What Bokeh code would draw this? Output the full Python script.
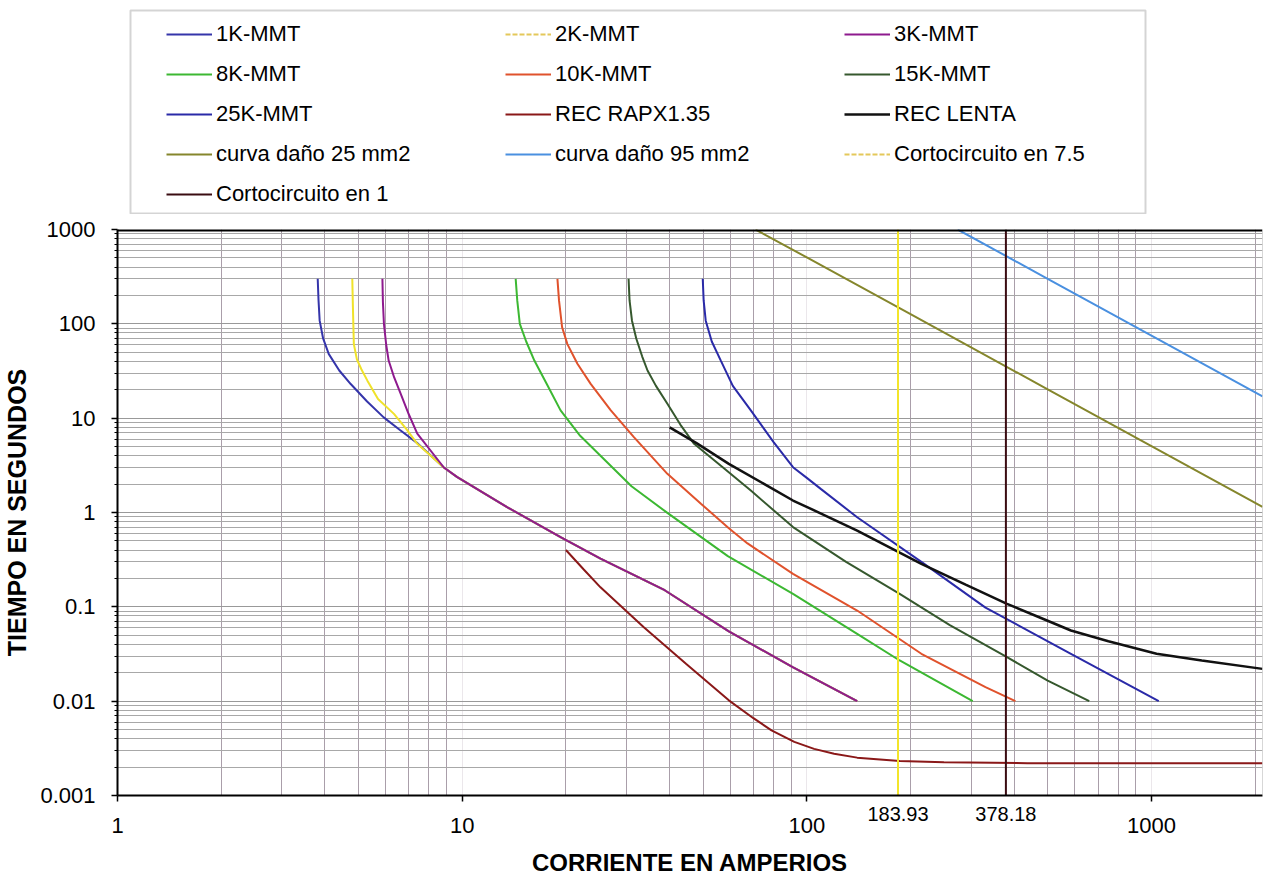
from bokeh.plotting import figure
from bokeh.layouts import column
from bokeh.models import (Legend, LegendItem, FixedTicker, BoxAnnotation, Range1d, Span,
                          LogAxis, PrintfTickFormatter)
from bokeh.embed import file_html
from bokeh.resources import INLINE

FONT = "Liberation Sans"

# ---------------- data ----------------
x_major = [1, 10, 100, 1000]
x_minor = [2, 3, 4, 5, 6, 7, 8, 9, 20, 30, 40, 50, 60, 70, 80, 90,
           200, 300, 400, 500, 600, 700, 800, 900, 2000]
y_major = [0.001, 0.01, 0.1, 1, 10, 100, 1000]
y_minor = [0.002, 0.003, 0.004, 0.005, 0.006, 0.007, 0.008, 0.009,
           0.02, 0.03, 0.04, 0.05, 0.06, 0.07, 0.08, 0.09,
           0.2, 0.3, 0.4, 0.5, 0.6, 0.7, 0.8, 0.9,
           2, 3, 4, 5, 6, 7, 8, 9, 20, 30, 40, 50, 60, 70, 80, 90,
           200, 300, 400, 500, 600, 700, 800, 900]
x_min, x_max = 1, 2100
y_min, y_max = 0.001, 1000

k1_i = [3.81, 3.83, 3.86, 3.95, 4.10, 4.40, 4.75, 5.30, 5.92, 6.60, 7.43, 8.85, 9.68, 13.5, 19.3, 25.2, 38.7, 59.4, 91.0, 140]
k1_t = [300, 180, 108, 70, 48, 32, 23, 15, 10.2, 7.5, 5.4, 3.0, 2.37, 1.14, 0.547, 0.325, 0.15, 0.055, 0.0229, 0.01]

k2_i = [4.80, 4.82, 4.85, 4.95, 5.10, 5.31, 5.70, 6.34, 6.90, 7.41, 8.85, 9.68, 13.5, 19.3, 25.2, 38.7, 59.4, 91.0, 140]
k2_t = [300, 150, 61, 42, 33, 25, 16, 11.1, 7.6, 5.35, 3.0, 2.37, 1.14, 0.547, 0.325, 0.15, 0.055, 0.0229, 0.01]

k3_i = [5.87, 5.89, 5.93, 6.02, 6.12, 6.35, 6.63, 7.00, 7.41, 8.85, 9.68, 13.5, 19.3, 25.2, 38.7, 59.4, 91.0, 140]
k3_t = [300, 170, 100, 60, 40.8, 27, 18.2, 11, 6.87, 3.0, 2.37, 1.14, 0.547, 0.325, 0.15, 0.055, 0.0229, 0.01]

k8_i = [14.3, 14.45, 14.7, 15.34, 16.2, 17.6, 19.3, 22.0, 25.2, 31.0, 39.4, 59.0, 91.2, 140, 186, 303]
k8_t = [300, 177, 100, 65, 40.8, 23, 12.1, 6.5, 4.0, 1.9, 0.99, 0.345, 0.137, 0.0518, 0.027, 0.01]

k10_i = [18.9, 19.1, 19.5, 20.2, 21.6, 23.6, 27.0, 31.5, 39.4, 49.3, 59.4, 67.3, 91.2, 140, 215, 330, 403]
k10_t = [300, 177, 92, 61, 37.7, 23.1, 12.1, 6.3, 2.57, 1.24, 0.68, 0.47, 0.224, 0.0914, 0.0318, 0.0141, 0.01]

k15_i = [30.4, 30.6, 31.1, 32.0, 33.3, 34.5, 36.5, 39.4, 43.0, 47.1, 56.9, 68.8, 91.2, 130, 186, 260, 381, 500, 660]
k15_t = [300, 177, 108, 70, 45, 32, 22, 14.2, 8.5, 5.35, 3.03, 1.71, 0.70, 0.30, 0.137, 0.064, 0.0293, 0.0165, 0.01]

k25_i = [49.9, 50.2, 50.9, 53.0, 56.3, 61.0, 68.8, 80.0, 91.2, 100, 110, 140, 215, 330, 584, 1050]
k25_t = [300, 177, 108, 65, 40.8, 22, 12.1, 5.6, 3.02, 2.33, 1.77, 0.89, 0.30, 0.098, 0.0318, 0.01]

rr_i = [20.0, 22.5, 25.2, 33.6, 44.7, 59.4, 70.0, 79.0, 92.0, 105, 120, 140, 186, 250, 437, 2100]
rr_t = [0.40, 0.25, 0.161, 0.061, 0.0248, 0.0102, 0.0066, 0.0049, 0.0037, 0.00312, 0.00277, 0.00252, 0.00232, 0.00225, 0.0022, 0.0022]

rl_i = [40.0, 48.0, 59.4, 91.2, 110, 140, 215, 290, 381, 480, 584, 750, 1035, 1400, 2100]
rl_t = [8.0, 5.4, 3.28, 1.34, 0.975, 0.644, 0.286, 0.171, 0.1076, 0.0757, 0.0561, 0.0432, 0.0318, 0.027, 0.022]

d25_i = [71.0, 100, 200, 500, 1000, 2100]
d25_t = [1000, 506, 127, 20.2, 5.06, 1.15]

d95_i = [274, 500, 1000, 2100]
d95_t = [1000, 300, 75, 17.0]

sc75_i = 183.93
sc1_i = 378.18

series_names = ["1K-MMT", "2K-MMT", "3K-MMT", "8K-MMT", "10K-MMT", "15K-MMT", "25K-MMT",
                "REC RAPX1.35", "REC LENTA", "curva daño 25 mm2", "curva daño 95 mm2",
                "Cortocircuito en 7.5", "Cortocircuito en 1"]
series_colors = ["#3535aa", "#f0e22a", "#8e1a8e", "#3cb832", "#e0522c", "#36582e", "#2a2aa8",
                 "#8a1818", "#111111", "#85862c", "#4a90e0", "#f3e52a", "#3a0c12"]
series_widths = [2, 2, 2, 2, 2, 2, 2, 2, 2.5, 2, 2, 2, 2]
series_data = [(k1_i, k1_t), (k2_i, k2_t), (k3_i, k3_t), (k8_i, k8_t), (k10_i, k10_t),
               (k15_i, k15_t), (k25_i, k25_t), (rr_i, rr_t), (rl_i, rl_t),
               (d25_i, d25_t), (d95_i, d95_t),
               ([sc75_i, sc75_i], [y_min, y_max]), ([sc1_i, sc1_i], [y_min, y_max])]

# ---------------- legend figure (top band) ----------------
# the legend proxies plot the same series, but its ranges keep them out of view
pl = figure(width=1272, height=214, x_range=Range1d(0, 1), y_range=Range1d(0, 1),
            x_axis_location=None, y_axis_location=None, min_border=0,
            output_backend="svg", toolbar_location=None)
pl.outline_line_color = None
pl.xgrid.visible = False
pl.ygrid.visible = False
items = []
for name, (xs, ys), col, w in zip(series_names, series_data, series_colors, series_widths):
    yellow = col in ("#f0e22a", "#f3e52a")
    r = pl.line(xs, ys, line_color="#e4c85a" if yellow else col, line_width=w,
                line_dash="5 2" if yellow else "solid")
    items.append(LegendItem(label=name, renderers=[r]))
legend = Legend(items=items, orientation="horizontal", ncols=3,
                location=(49, 7), margin=0, padding=0,
                glyph_width=46, glyph_height=20, label_height=20,
                label_width=275, label_standoff=4, spacing=14,
                label_text_font=FONT, label_text_font_size="22px",
                label_text_color="black",
                border_line_alpha=0, background_fill_alpha=0)
pl.add_layout(legend, "center")
pl.add_layout(BoxAnnotation(left=130, right=1145, top=10, bottom=213,
                            left_units="canvas", right_units="canvas",
                            top_units="canvas", bottom_units="canvas",
                            fill_alpha=0, line_color="#707070", line_width=2))

# ---------------- main chart ----------------
p = figure(width=1272, height=665, x_axis_type="log", y_axis_type="log",
           x_range=Range1d(x_min, x_max), y_range=Range1d(y_min, y_max),
           output_backend="svg", toolbar_location=None,
           min_border_left=117, min_border_right=10,
           min_border_top=15, min_border_bottom=84)
p.outline_line_color = None
p.background_fill_color = "white"

main_x = p.xaxis[0]
yax = p.yaxis[0]

main_x.ticker = FixedTicker(ticks=x_major, minor_ticks=x_minor)
main_x.axis_line_color = None
main_x.major_tick_out = 0
main_x.major_tick_in = 0
main_x.minor_tick_out = 0
main_x.minor_tick_in = 0
main_x.major_label_text_font = FONT
main_x.major_label_text_font_size = "22px"
main_x.major_label_text_color = "black"
main_x.major_label_overrides = {1: "1", 10: "10", 100: "100", 1000: "1000"}
main_x.major_label_standoff = -6
main_x.axis_label = "CORRIENTE EN AMPERIOS"
main_x.axis_label_text_font = FONT
main_x.axis_label_text_font_style = "bold"
main_x.axis_label_text_font_size = "24px"
main_x.axis_label_text_color = "black"
main_x.axis_label_standoff = 13

sc_x = LogAxis(ticker=FixedTicker(ticks=[sc75_i, sc1_i], minor_ticks=x_major),
               formatter=PrintfTickFormatter(format="%.2f"))
sc_x.axis_line_color = "black"
sc_x.axis_line_width = 2
sc_x.major_tick_out = 0
sc_x.major_tick_in = 0
sc_x.minor_tick_out = 6
sc_x.minor_tick_in = 0
sc_x.minor_tick_line_color = "black"
sc_x.minor_tick_line_width = 1.5
sc_x.major_label_standoff = 5
sc_x.major_label_text_font = FONT
sc_x.major_label_text_font_size = "20px"
sc_x.major_label_text_color = "black"
p.below = [sc_x, main_x]

yax.ticker = FixedTicker(ticks=y_major, minor_ticks=y_minor)
yax.axis_line_color = "black"
yax.axis_line_width = 2
yax.major_tick_out = 6
yax.major_tick_in = 0
yax.major_tick_line_color = "black"
yax.major_tick_line_width = 1.5
yax.minor_tick_in = 0
yax.minor_tick_out = 3
yax.minor_tick_line_color = "black"
yax.major_label_text_font = FONT
yax.major_label_text_font_size = "22px"
yax.major_label_text_color = "black"
yax.major_label_overrides = {0.001: "0.001", 0.01: "0.01", 0.1: "0.1", 1: "1",
                             10: "10", 100: "100", 1000: "1000"}
yax.major_label_standoff = 16
yax.axis_label = "TIEMPO EN SEGUNDOS"
yax.axis_label_text_font = FONT
yax.axis_label_text_font_style = "bold"
yax.axis_label_text_font_size = "25px"
yax.axis_label_text_color = "black"
yax.axis_label_standoff = 6

p.xgrid.grid_line_color = "#d8d0d8"
p.xgrid.grid_line_alpha = 0.5
p.xgrid.minor_grid_line_color = "#aa9eaa"
p.xgrid.minor_grid_line_width = 1
p.ygrid.grid_line_color = "#999999"
p.ygrid.minor_grid_line_color = "#a8a8a8"
p.ygrid.minor_grid_line_width = 1

p.add_layout(Span(location=y_max, dimension="width", line_color="black", line_width=4))
p.add_layout(Span(location=x_max, dimension="height", line_color="#b0b0b0", line_width=1))

for (xs, ys), col, w in zip(series_data, series_colors, series_widths):
    p.line(xs, ys, line_color=col, line_width=w)

open("out.html", "w").write(file_html(column(pl, p, spacing=0), INLINE))
